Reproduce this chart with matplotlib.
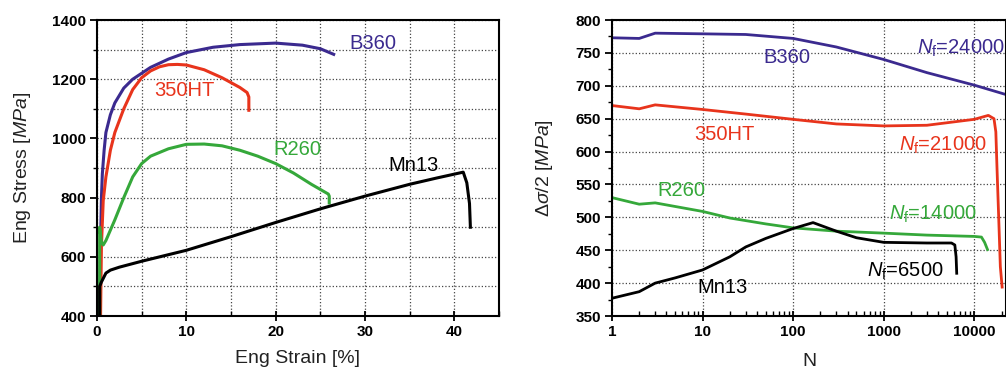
import matplotlib
matplotlib.use('Agg')
import matplotlib.pyplot as plt
from matplotlib.ticker import MultipleLocator, LogLocator, NullFormatter

plt.rcParams['font.family'] = ['Liberation Sans', 'DejaVu Sans']
plt.rcParams['mathtext.fontset'] = 'custom'
plt.rcParams['mathtext.rm'] = 'Liberation Sans'
plt.rcParams['mathtext.it'] = 'Liberation Sans:italic'

# --- tensile curves (left) ---
b360_strain = [0.3, 0.4, 0.5, 0.6, 0.8, 1.0, 1.5, 2, 3, 4, 6, 8, 10, 13, 16, 20, 23, 25, 26.5]
b360_stress = [400, 650, 800, 880, 960, 1020, 1080, 1120, 1170, 1200, 1240, 1268, 1290, 1308, 1317, 1322, 1315, 1303, 1284]

ht350_strain = [0.4, 0.5, 0.7, 1.0, 1.5, 2, 3, 4, 5, 6, 7, 8, 9, 10, 12, 14, 16, 16.8, 17.0, 17.0]
ht350_stress = [400, 640, 790, 870, 960, 1020, 1100, 1165, 1205, 1228, 1242, 1249, 1250, 1248, 1232, 1205, 1172, 1155, 1140, 1095]

r260_strain = [0.3, 0.3, 0.5, 0.7, 1.0, 1.5, 2, 3, 4, 5, 6, 8, 10, 12, 14, 16, 18, 20, 22, 24, 25.9, 26, 26]
r260_stress = [400, 700, 650, 640, 655, 690, 725, 800, 870, 915, 940, 965, 980, 981, 975, 960, 940, 915, 883, 845, 812, 805, 782]

mn13_strain = [0.3, 0.3, 0.5, 1.0, 1.5, 2.5, 5, 10, 15, 20, 25, 30, 35, 38, 41.0, 41.4, 41.7, 41.8]
mn13_stress = [400, 500, 515, 545, 555, 565, 585, 622, 668, 716, 762, 805, 845, 866, 886, 850, 780, 700]

# --- cyclic stress amplitude (right) ---
b360_n = [1, 2, 3, 10, 30, 100, 300, 1000, 3000, 10000, 22000]
b360_amp = [773, 772, 780, 779, 778, 772, 759, 740, 720, 701, 687]

ht350_n = [1, 2, 3, 10, 30, 100, 300, 1000, 3000, 10000, 14300, 16500, 17300, 17800, 18600, 19400, 20300]
ht350_amp = [670, 665, 671, 664, 657, 649, 642, 639, 640, 649, 655, 650, 630, 577, 500, 425, 394]

r260_n = [1, 2, 3, 10, 20, 50, 100, 300, 1000, 3000, 10000, 12000, 13000, 14000]
r260_amp = [530, 520, 522, 509, 499, 490, 484, 479, 476, 473, 471, 470, 462, 451]

mn13_n = [1, 2, 3, 5, 10, 20, 30, 50, 100, 166, 300, 500, 1000, 3000, 5600, 6100, 6300, 6400]
mn13_amp = [377, 387, 400, 408, 420, 440, 455, 468, 483, 492, 479, 469, 462, 461, 461, 458, 440, 415]

purple = '#3b2a8f'
red = '#e8341c'
green = '#35a83a'
black = '#000000'

fig = plt.figure(figsize=(10.06, 3.72), dpi=100)
ax1 = fig.add_axes([0.0964, 0.1505, 0.3996, 0.7957])
ax2 = fig.add_axes([0.6083, 0.1505, 0.3917, 0.7957])

# left panel
ax1.plot(b360_strain, b360_stress, color=purple, lw=2.2)
ax1.plot(ht350_strain, ht350_stress, color=red, lw=2.2)
ax1.plot(r260_strain, r260_stress, color=green, lw=2.2)
ax1.plot(mn13_strain, mn13_stress, color=black, lw=2.2)

ax1.text(28.2, 1320, 'B360', color=purple, fontsize=14.5, va='center')
ax1.text(6.4, 1163, '350HT', color=red, fontsize=14.5, va='center')
ax1.text(19.7, 961, 'R260', color=green, fontsize=14.5, va='center')
ax1.text(32.6, 907, 'Mn13', color=black, fontsize=14.5, va='center')

ax1.set_xlim(0, 45)
ax1.set_ylim(400, 1400)
ax1.xaxis.set_major_locator(MultipleLocator(10))
ax1.xaxis.set_minor_locator(MultipleLocator(5))
ax1.yaxis.set_major_locator(MultipleLocator(200))
ax1.yaxis.set_minor_locator(MultipleLocator(100))
ax1.grid(True, which='both', ls=':', color='#444444', lw=0.9)
ax1.set_xlabel('Eng Strain [%]', fontsize=14, color='#222222')
ax1.set_ylabel(r'Eng Stress [$\mathit{MPa}$]', fontsize=14, color='#222222')
ax1.xaxis.set_label_coords(0.5, -0.115)
ax1.yaxis.set_label_coords(-0.159, 0.5)

# right panel
ax2.plot(b360_n, b360_amp, color=purple, lw=2.0)
ax2.plot(ht350_n, ht350_amp, color=red, lw=2.0)
ax2.plot(r260_n, r260_amp, color=green, lw=2.0)
ax2.plot(mn13_n, mn13_amp, color=black, lw=2.0)

nf = r'$\mathit{N}_\mathrm{f}$='
ax2.text(46.6, 743.5, 'B360', color=purple, fontsize=14.5, va='center')
ax2.text(2340, 757, nf + '24000', color=purple, fontsize=14.5, va='center')
ax2.text(8.05, 626, '350HT', color=red, fontsize=14.5, va='center')
ax2.text(1480, 610, nf + '21000', color=red, fontsize=14.5, va='center')
ax2.text(3.2, 541, 'R260', color=green, fontsize=14.5, va='center')
ax2.text(1150, 505, nf + '14000', color=green, fontsize=14.5, va='center')
ax2.text(8.7, 394, 'Mn13', color=black, fontsize=14.5, va='center')
ax2.text(660, 417.6, nf + '6500', color=black, fontsize=14.5, va='center')

ax2.set_xscale('log')
ax2.set_xlim(1, 22400)
ax2.set_ylim(350, 800)
ax2.xaxis.set_minor_locator(LogLocator(base=10, subs=range(2, 10)))
ax2.xaxis.set_minor_formatter(NullFormatter())
ax2.set_xticks([1, 10, 100, 1000, 10000])
ax2.set_xticklabels(['1', '10', '100', '1000', '10000'])
ax2.yaxis.set_major_locator(MultipleLocator(50))
ax2.yaxis.set_minor_locator(MultipleLocator(25))
ax2.grid(True, which='major', ls=':', color='#444444', lw=0.9)
ax2.set_xlabel('N', fontsize=14, color='#222222')
ax2.set_ylabel(r'$\Delta\mathit{\sigma}$/2 [$\mathit{MPa}$]', fontsize=14, color='#222222')
ax2.xaxis.set_label_coords(0.5, -0.125)
ax2.yaxis.set_label_coords(-0.145, 0.5)

for ax in (ax1, ax2):
    ax.set_axisbelow(True)
    for sp in ax.spines.values():
        sp.set_linewidth(1.5)
    ax.tick_params(axis='y', which='major', direction='out', length=5, width=1.3)
    ax.tick_params(axis='y', which='minor', direction='out', length=3, width=1.0)
    ax.tick_params(axis='x', which='major', direction='inout', length=7, width=1.3)
    ax.tick_params(axis='x', which='minor', direction='in', length=3.5, width=1.0)
    ax.tick_params(axis='both', which='major', labelsize=11, pad=3)
    for lab in ax.get_xticklabels() + ax.get_yticklabels():
        lab.set_fontweight('bold')

fig.savefig('out.png', dpi=100)
